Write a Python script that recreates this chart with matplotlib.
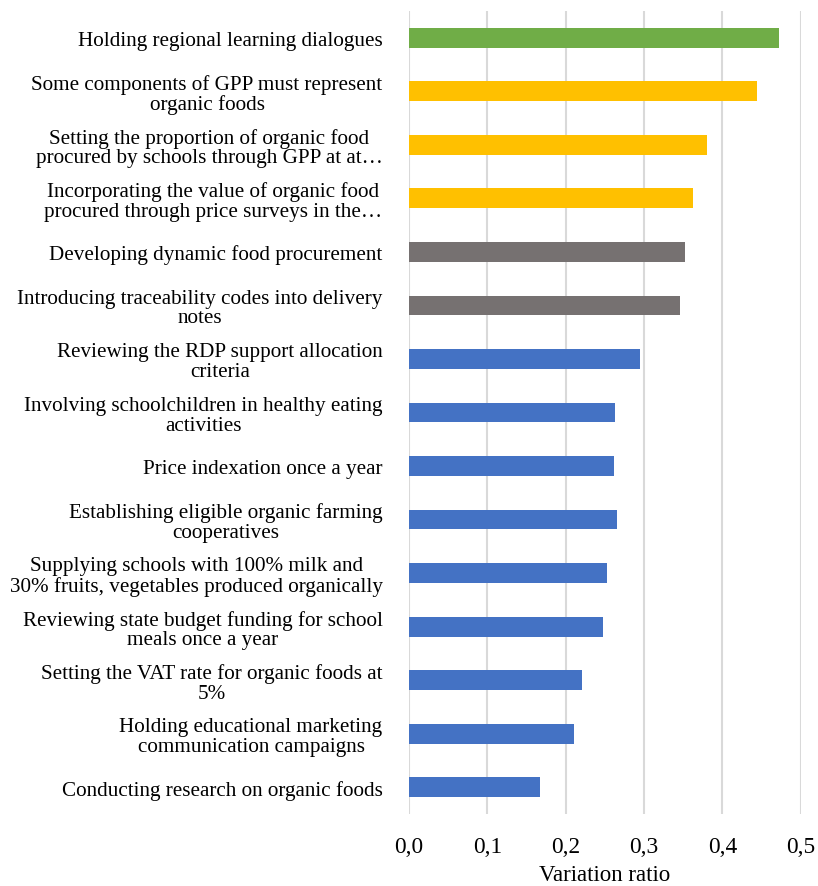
import matplotlib

matplotlib.use("Agg")
import matplotlib.pyplot as plt
from matplotlib.ticker import FuncFormatter, MultipleLocator

plt.rcParams["font.family"] = ["Liberation Serif", "DejaVu Serif"]

GREEN = "#70AD47"
GOLD = "#FFC000"
GRAY = "#767171"
BLUE = "#4472C4"

# top to bottom, as in the picture
labels = [
    "Holding regional learning dialogues",
    "Some components of GPP must represent\norganic foods",
    "Setting the proportion of organic food\nprocured by schools through GPP at at…",
    "Incorporating the value of organic food\nprocured through price surveys in the…",
    "Developing dynamic food procurement",
    "Introducing traceability codes into delivery\nnotes",
    "Reviewing the RDP support allocation\ncriteria",
    "Involving schoolchildren in healthy eating\nactivities",
    "Price indexation once a year",
    "Establishing eligible organic farming\ncooperatives",
    "Supplying schools with 100% milk and\n30% fruits, vegetables produced organically",
    "Reviewing state budget funding for school\nmeals once a year",
    "Setting the VAT rate for organic foods at\n5%",
    "Holding educational marketing\ncommunication campaigns",
    "Conducting research on organic foods",
]
values = [0.472, 0.444, 0.380, 0.363, 0.352, 0.346, 0.295, 0.263, 0.262,
          0.265, 0.253, 0.247, 0.221, 0.210, 0.167]
groups = ["green", "gold", "gold", "gold", "gray", "gray"] + ["blue"] * 9
palette = {"green": GREEN, "gold": GOLD, "gray": GRAY, "blue": BLUE}

fig = plt.figure(figsize=(8.18, 8.87), dpi=100)
ax = fig.add_axes([0.5, 0.0812, 0.479, 0.9053])

ypos = list(range(len(labels)))[::-1]
ax.barh(ypos, values, height=0.37, color=[palette[g] for g in groups], zorder=3)

ax.set_xlim(0, 0.5)
ax.set_ylim(-0.5, len(labels) - 0.5)
ax.xaxis.set_major_locator(MultipleLocator(0.1))
ax.xaxis.set_major_formatter(FuncFormatter(lambda v, _: f"{v:.1f}".replace(".", ",")))
ax.set_yticks(ypos)
ax.set_yticklabels(labels, fontsize=15.2, multialignment="center", linespacing=1.04)
ax.tick_params(axis="both", length=0)
ax.tick_params(axis="y", pad=19)
ax.tick_params(axis="x", labelsize=16.8, pad=16)
ax.grid(axis="x", color="#D9D9D9", lw=1.5, zorder=0)
for s in ax.spines.values():
    s.set_visible(False)
ax.set_xlabel("Variation ratio", fontsize=16.5, labelpad=5)

fig.savefig("out.png", dpi=100)
